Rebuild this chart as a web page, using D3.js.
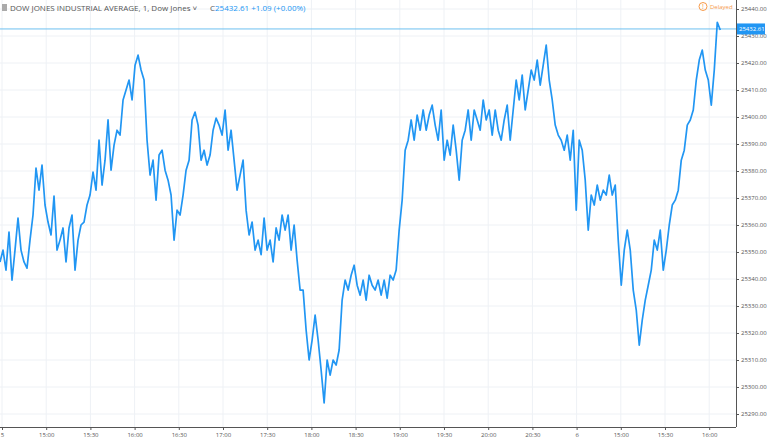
<!DOCTYPE html>
<html><head><meta charset="utf-8">
<script src="https://cdn.jsdelivr.net/npm/d3@7"></script>
<style>body{margin:0;background:#fff;font-family:"Open Sans",sans-serif}</style>
</head><body><svg id="c" width="768" height="441"></svg>
<script>
const title = "DOW JONES INDUSTRIAL AVERAGE, 1, Dow Jones";
const lastPrice = 25432.61;
const yTicks = [25290,25300,25310,25320,25330,25340,25350,25360,25370,25380,25390,25400,25410,25420,25430,25440];
const xTickMinutes = [0,30,60,90,120,150,180,210,240,270,300,330,360,390,420,450,480];
const xTickLabels = ["5","15:00","15:30","16:00","16:30","17:00","17:30","18:00","18:30","19:00","19:30","20:00","20:30","6","15:00","15:30","16:00"];
const stepMinutes = 2.037;
const prices = [25346.3,25350.7,25343.3,25357.4,25339.6,25350.7,25362.6,25350.7,25346.3,25344.0,25354.4,25363.7,25381.1,25372.9,25382.2,25367.4,25361.1,25356.3,25370.7,25350.7,25354.4,25358.9,25346.3,25358.9,25363.7,25343.3,25354.4,25360,25361.1,25367.4,25371.1,25379.6,25372.9,25391.4,25374.8,25384.0,25398.9,25380.3,25389.6,25395.1,25393.3,25406.3,25410.0,25413.7,25406.3,25419.2,25422.9,25417.4,25413.7,25391.4,25378.5,25384.0,25369.2,25385.9,25387.7,25380.3,25376.6,25371.1,25354.4,25365.5,25363.7,25371.1,25380.3,25384.0,25398.9,25401.8,25397.0,25384.0,25387.7,25382.2,25385.9,25395.1,25399.6,25397.0,25393.3,25402.6,25387.7,25395.1,25384.0,25372.9,25378.5,25384.0,25365.5,25356.3,25361.1,25350.7,25354.4,25349,25362.6,25350.7,25354.4,25346.3,25358.9,25354.4,25363.7,25358.1,25363.7,25350.7,25360,25347.0,25335.9,25335.9,25321.1,25310.0,25317.4,25326.6,25317.4,25306.3,25294.1,25310.0,25304.4,25310.0,25308.1,25313.7,25332.2,25339.6,25335.9,25341.4,25345.1,25337.7,25334.0,25339.6,25332.2,25341.4,25337.7,25335.9,25339.6,25334.0,25339.6,25332.9,25341.4,25339.6,25343.3,25358.1,25369.2,25387.7,25391.4,25398.9,25391.4,25400.7,25395.1,25402.6,25395.1,25400.7,25404.4,25397.0,25391.4,25402.6,25384.0,25391.4,25385.9,25397.0,25387.7,25376.6,25391.4,25395.1,25402.6,25391.4,25402.6,25398.9,25395.1,25406.3,25398.9,25402.6,25393.3,25402.6,25395.1,25391.4,25398.9,25404.4,25391.4,25402.6,25413.7,25406.3,25415.5,25402.6,25410.0,25417.4,25413.7,25421.1,25411.8,25419.2,25426.6,25413.7,25406.3,25397.0,25393.3,25391.4,25387.7,25393.3,25384.0,25395.1,25365.5,25391.4,25387.7,25376.6,25358.1,25371.1,25367.4,25374.8,25369.2,25372.9,25371.1,25378.5,25371.1,25374.8,25354.4,25337.7,25350.7,25358.1,25350.7,25335.9,25328.5,25315.5,25324.8,25332.2,25337.7,25343.3,25354.4,25350.7,25358.1,25343.3,25350.7,25360,25367.4,25369.2,25372.9,25384.0,25387.7,25397.0,25398.9,25402.6,25413.7,25421.1,25424.8,25417.4,25413.7,25404.4,25417.4,25435.1,25432.2];

const svg = d3.select("#c");
const plotRight=736, plotTop=9, plotBottom=414, axisY=427;
const x = d3.scaleLinear().domain([0,30]).range([2,46.2]);
const y = d3.scaleLinear().domain([25290,25440]).range([plotBottom,plotTop]);

svg.append("g").selectAll("line").data(yTicks).join("line")
  .attr("x1",0).attr("x2",plotRight).attr("y1",d=>y(d)).attr("y2",d=>y(d))
  .attr("stroke","#eef1f5");
svg.append("g").selectAll("line").data(xTickMinutes).join("line")
  .attr("x1",d=>x(d)).attr("x2",d=>x(d)).attr("y1",0).attr("y2",axisY)
  .attr("stroke","#eef1f5");

svg.append("line").attr("x1",plotRight+0.5).attr("x2",plotRight+0.5).attr("y1",0).attr("y2",axisY).attr("stroke","#555");
svg.append("line").attr("x1",0).attr("x2",plotRight).attr("y1",axisY+0.5).attr("y2",axisY+0.5).attr("stroke","#555");
const ya = svg.append("g").attr("transform",`translate(${plotRight},0)`)
  .call(d3.axisRight(y).tickValues(yTicks).tickSize(3).tickPadding(2).tickFormat(d3.format(".2f")));
ya.select(".domain").remove();
ya.selectAll("text").attr("fill","#555").attr("font-size",6).attr("font-family","Open Sans");
ya.selectAll("line").attr("stroke","#555");
const xa = svg.append("g").attr("transform",`translate(0,${axisY})`)
  .call(d3.axisBottom(x).tickValues(xTickMinutes).tickSize(3).tickFormat((d,i)=>xTickLabels[i]));
xa.select(".domain").remove();
xa.selectAll("text").attr("fill","#555").attr("font-size",6).attr("font-family","Open Sans");
xa.selectAll("line").attr("stroke","#555");

svg.append("line").attr("x1",0).attr("x2",plotRight).attr("y1",y(lastPrice)).attr("y2",y(lastPrice))
  .attr("stroke","#6ec0f0").attr("stroke-width",1);

const line = d3.line().x((d,i)=>x(i*stepMinutes-1.36)).y(d=>y(d));
svg.append("path").datum(prices).attr("d",line).attr("fill","none")
  .attr("stroke","#2196f3").attr("stroke-width",1.7).attr("stroke-linejoin","round");

svg.append("rect").attr("x",plotRight+1).attr("y",y(lastPrice)-5.5).attr("width",28).attr("height",11).attr("fill","#2196f3");
svg.append("text").attr("x",plotRight+3).attr("y",y(lastPrice)+2.5).attr("fill","#fff").attr("font-size",6).text(lastPrice.toFixed(2));

svg.append("rect").attr("x",2).attr("y",4).attr("width",5).attr("height",7).attr("fill","#aaa");
svg.append("text").attr("x",10).attr("y",11).attr("font-size",8).attr("fill","#555").text(title+" \u02C5");
svg.append("text").attr("x",210).attr("y",11).attr("font-size",8).attr("fill","#555").text("C")
  .append("tspan").attr("fill","#2196f3").text("25432.61  +1.09 (+0.00%)");
svg.append("circle").attr("cx",703).attr("cy",6.5).attr("r",4).attr("fill","none").attr("stroke","#f79a4a");
svg.append("text").attr("x",703).attr("y",9).attr("text-anchor","middle").attr("font-size",7).attr("fill","#f79a4a").text("!");
svg.append("text").attr("x",710).attr("y",9).attr("font-size",6).attr("fill","#f79a4a").text("Delayed");
</script></body></html>
